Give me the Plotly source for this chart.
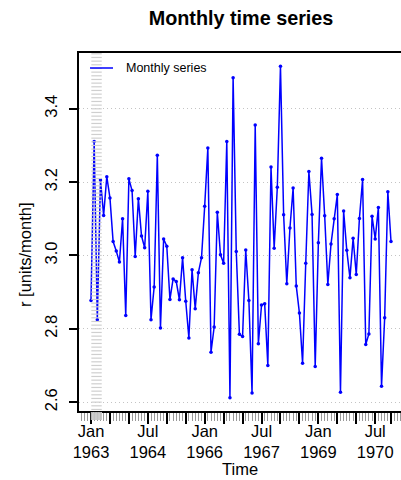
import numpy as np
import plotly.graph_objects as go

# ---- data ----
start_year = 1963
values = [
    2.877, 3.311, 2.825, 3.206, 3.109, 3.215, 3.157, 3.038, 3.012, 2.982, 3.100, 2.836,
    3.209, 3.177, 2.997, 3.155, 3.053, 3.021, 3.175, 2.825, 2.914, 3.273, 2.802, 3.045,
    3.025, 2.880, 2.936, 2.929, 2.879, 2.994, 2.875, 2.775, 2.961, 2.855, 2.953, 2.994,
    3.134, 3.293, 2.736, 2.805, 3.118, 3.002, 2.979, 3.311, 2.612, 3.485, 3.011, 2.785,
    2.779, 3.015, 2.877, 2.625, 3.356, 2.759, 2.865, 2.868, 2.700, 3.241, 3.020, 3.186,
    3.516, 3.111, 2.923, 3.075, 3.184, 2.917, 2.843, 2.706, 2.979, 3.229, 3.112, 2.697,
    3.035, 3.265, 3.108, 2.921, 3.031, 3.100, 3.166, 2.627, 3.121, 3.014, 2.939, 3.047,
    2.948, 3.101, 3.207, 2.757, 2.786, 3.107, 3.045, 3.131, 2.643, 2.830, 3.174, 3.038,
]
series_name = "Monthly series"
label_pos = [1963.0, 1964.5, 1966.0, 1967.5, 1969.0, 1970.5]
label_text = ["Jan<br>1963", "Jul<br>1964", "Jan<br>1966", "Jul<br>1967", "Jan<br>1969", "Jul<br>1970"]
y_ticks = [2.6, 2.8, 3.0, 3.2, 3.4]

t = start_year + np.arange(len(values)) / 12.0

# ---- geometry ----
W, H = 401, 480
L, T, B = 79, 53, 411
plot_w = W - L
plot_h = B - T
px_per_month = 300 / 95
x0 = t[0] - 0.04 * (t[-1] - t[0])
x1 = x0 + plot_w / px_per_month / 12
ymin, ymax = min(values), max(values)
pad = 0.04 * (ymax - ymin)
y0, y1 = ymin - pad, ymax + pad

FONT = "Liberation Sans, Arial, Helvetica, sans-serif"

fig = go.Figure()
fig.add_trace(go.Scatter(
    x=t, y=values, mode="lines+markers", name=series_name,
    line=dict(color="#0000FF", width=1.5),
    marker=dict(color="#0000FF", size=3.5),
    showlegend=False,
))

# grey dense rug-like dashes over the first months (decoration)
dash_y = np.arange(2.58, 3.555, 0.01)
gx, gy = [], []
for yy in dash_y:
    gx += [t[0] + 0.1 / 12, t[0] + 3.4 / 12, None]
    gy += [yy, yy, None]
fig.add_trace(go.Scatter(x=gx, y=gy, mode="lines", line=dict(color="#cfcfcf", width=1.2),
                         hoverinfo="skip", showlegend=False))

major = list(np.arange(1963.0, 1971.0, 0.5)) + [t[-1]]
ticktext = []
for v in major:
    m = [k for k, p in enumerate(label_pos) if abs(p - v) < 1e-6]
    ticktext.append(label_text[m[0]] if m else "")

fig.update_layout(
    width=W, height=H,
    margin=dict(l=L, r=0, t=T, b=H - B),
    paper_bgcolor="white", plot_bgcolor="white",
    font=dict(family=FONT, color="black", size=16.5),
    title=dict(text="<b>Monthly time series</b>", x=(L + 403) / 2 / W, xanchor="center",
               y=1 - 18 / H, yanchor="middle", yref="container",
               font=dict(size=19.8, family=FONT)),
    xaxis=dict(
        range=[x0, x1], showgrid=False, zeroline=False,
        showline=True, linecolor="black", linewidth=2, mirror=True,
        tickvals=major, ticktext=ticktext, ticks="outside", ticklen=11,
        tickwidth=1.6, tickcolor="black", tickfont=dict(size=16.5),
        ticklabelstandoff=-7,
        minor=dict(dtick=1 / 12, tick0=1963, ticks="outside", ticklen=8,
                   tickcolor="#999999", tickwidth=1, showgrid=False),
    ),
    yaxis=dict(
        range=[y0, y1], zeroline=False,
        showline=True, linecolor="black", linewidth=2, mirror=False,
        tickvals=y_ticks, tickformat=".1f", ticks="outside", ticklen=8,
        tickwidth=1.6, tickcolor="black", tickangle=-90, tickfont=dict(size=16.5),
        ticklabelstandoff=5,
        showgrid=True, gridcolor="#c4c4c4", gridwidth=1, griddash="1px,3px",
    ),
)

def px2paper_x(px):
    return (px - L) / plot_w

def px2paper_y(py):
    return (B - py) / plot_h

# bottom dense grey ticks near the start
for k in range(15):
    xv = t[0] + (0.1 + k * 0.23) / 12
    fig.add_shape(type="line", xref="x", yref="paper", x0=xv, x1=xv,
                  y0=px2paper_y(412), y1=px2paper_y(420),
                  line=dict(color="#c8c8c8", width=1))

# legend (manual)
fig.add_shape(type="line", xref="paper", yref="paper",
              x0=px2paper_x(90), x1=px2paper_x(113), y0=px2paper_y(68), y1=px2paper_y(68),
              line=dict(color="#0000FF", width=1.5))
fig.add_annotation(text=series_name, xref="paper", yref="paper",
                   x=px2paper_x(124), y=px2paper_y(68), xanchor="left", yanchor="middle",
                   showarrow=False, font=dict(size=12.5, family=FONT, color="black"))

# axis titles
fig.add_annotation(text="Time", xref="paper", yref="paper",
                   x=px2paper_x(240), y=px2paper_y(469), xanchor="center", yanchor="middle",
                   showarrow=False, font=dict(size=16.5, family=FONT))
fig.add_annotation(text="r [units/month]", xref="paper", yref="paper", textangle=-90,
                   x=px2paper_x(25), y=px2paper_y(254), xanchor="center", yanchor="middle",
                   showarrow=False, font=dict(size=16.5, family=FONT))

fig.write_html("out.html")
